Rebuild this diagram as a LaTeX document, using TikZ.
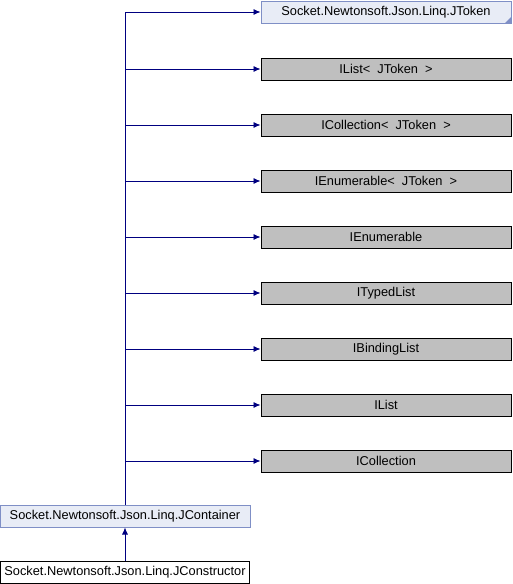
\documentclass[tikz,border=0pt]{standalone}
\usepackage{fontspec}
\setmainfont{Liberation Sans}
\usetikzlibrary{arrows.meta,calc}
\definecolor{edgeblue}{HTML}{000080}
\definecolor{extfill}{HTML}{E8ECF6}
\definecolor{extdraw}{HTML}{7F8FC6}
\definecolor{grayfill}{HTML}{BFBFBF}
\tikzset{
  box/.style={draw, line width=1pt, minimum height=22pt, inner sep=0pt, font=\fontsize{12.8}{14}\selectfont, anchor=center},
  extbox/.style={box, fill=extfill, draw=extdraw, minimum width=250pt},
  graybox/.style={box, fill=grayfill, draw=black, minimum width=250pt},
  whitebox/.style={box, fill=white, draw=black, minimum width=249pt},
  link/.style={draw=edgeblue, line width=0.8pt, -{Latex[length=7pt,width=6pt]}},
}
\begin{document}
\begin{tikzpicture}[x=1pt,y=-1pt]
\useasboundingbox (0,0) rectangle (512,584);
\node[extbox] (jtoken) at (386,12) {Socket.Newtonsoft.Json.Linq.JToken};
\fill[extdraw] ($(jtoken.south east)+(-0.5,-0.5)$) -- ++(-6,0) -- ++(6,-6) -- cycle;
\node[graybox] (ilistj) at (386,69) {IList\textless{}~~JToken~~\textgreater{}};
\node[graybox] (icollj) at (386,125) {ICollection\textless{}~~JToken~~\textgreater{}};
\node[graybox] (ienumj) at (386,181) {IEnumerable\textless{}~~JToken~~\textgreater{}};
\node[graybox] (ienum) at (386,237) {IEnumerable};
\node[graybox] (ityped) at (386,293) {ITypedList};
\node[graybox] (ibind) at (386,349) {IBindingList};
\node[graybox] (ilist) at (386,405) {IList};
\node[graybox] (icoll) at (386,461) {ICollection};
\node[extbox] (jcont) at (125,516) {Socket.Newtonsoft.Json.Linq.JContainer};
\node[whitebox] (jcons) at (125,572) {Socket.Newtonsoft.Json.Linq.JConstructor};
\coordinate (top) at (125,12);
\draw[draw=edgeblue, line width=0.8pt] (jcont.north) -- (top);
\foreach \n in {jtoken,ilistj,icollj,ienumj,ienum,ityped,ibind,ilist,icoll}{
  \draw[link] (jcont.north |- \n.west) -- (\n.west);
}
\draw[link] (jcons.north) -- (jcont.south);
\end{tikzpicture}
\end{document}
